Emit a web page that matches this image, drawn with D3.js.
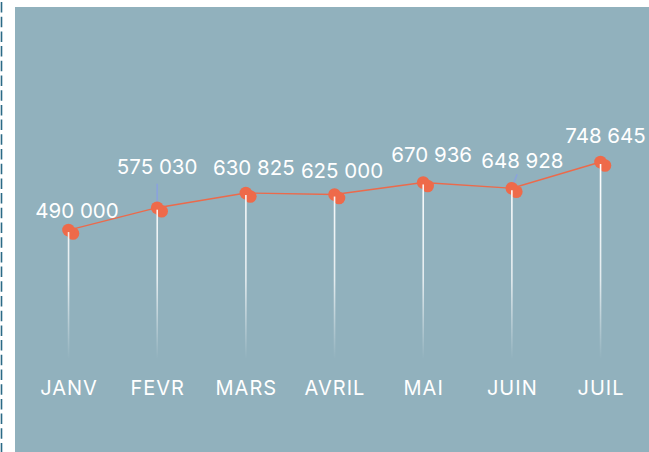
<!DOCTYPE html>
<html><head><meta charset="utf-8">
<script src="https://cdn.jsdelivr.net/npm/d3@7"></script>
<style>
html,body{margin:0;padding:0;background:#fff;}
svg{display:block;}
text{font-family:Inter,"Noto Sans",sans-serif;}
</style></head>
<body>
<script>
const months = ["JANV","FEVR","MARS","AVRIL","MAI","JUIN","JUIL"];
const values = [490000, 575030, 630825, 625000, 670936, 648928, 748645];
// label nudges (dx, dy) relative to each point, as drawn in the reference
const labelDx = [8.5, 0, 8, 7.5, 8.5, 10.5, 5];
const labelDy = [-12, -34, -18, -17, -20, -20, -19];
const leaderMonths = ["FEVR","JUIN"];

const W = 649, H = 452;
const svg = d3.select("body").append("svg").attr("width", W).attr("height", H);

// left dashed rule
svg.append("line").attr("x1",1.5).attr("x2",1.5).attr("y1",2).attr("y2",H)
  .attr("stroke","#2b6a86").attr("stroke-width",1.6).attr("stroke-dasharray","10.5,4.2");

// panel
svg.append("rect").attr("x",15).attr("y",7).attr("width",W-15).attr("height",H-7).attr("fill","#91b1bd");

const x = d3.scalePoint().domain(months).range([68.5, 600.5]);
const y = d3.scaleLinear().domain([0, d3.max(values)]).range([359, 162]);
const data = months.map((m,i)=>({m, v:values[i], i}));
const fmt = d3.formatLocale({decimal:",", thousands:" ", grouping:[3], currency:["","€"]}).format(",d");

const defs = svg.append("defs");
const g = defs.append("linearGradient").attr("id","fade").attr("gradientUnits","userSpaceOnUse")
  .attr("x1",0).attr("x2",0).attr("y1",y.range()[1]).attr("y2",y.range()[0]);
g.append("stop").attr("offset","0").attr("stop-color","#fff").attr("stop-opacity",1);
g.append("stop").attr("offset","0.6").attr("stop-color","#fff").attr("stop-opacity",0.75);
g.append("stop").attr("offset","1").attr("stop-color","#fff").attr("stop-opacity",0);

// leader lines
data.filter(d=>leaderMonths.includes(d.m)).forEach(d=>{
  const px = x(d.m), py = y(d.v);
  const lx = px + labelDx[d.i], ly = py + labelDy[d.i] - 8;
  const dx = lx - px, dy = ly - py, L = Math.hypot(dx,dy), len = d.m === "JUIN" ? 15 : 24;
  svg.append("line").attr("x1",px).attr("y1",py)
    .attr("x2",px+dx/L*len).attr("y2",py+dy/L*len)
    .attr("stroke","#8aa3dc").attr("stroke-width",1.6);
});

// line
svg.append("path").datum(data)
  .attr("d", d3.line().x(d=>x(d.m)).y(d=>y(d.v)))
  .attr("fill","none").attr("stroke","#ec6a4b").attr("stroke-width",1.4);

// points (double dots)
const pts = svg.append("g");
pts.selectAll("circle.b").data(data).join("circle").attr("class","b")
  .attr("cx",d=>x(d.m)+4.5).attr("cy",d=>y(d.v)+3.5).attr("r",6.3).attr("fill","#ee6a4a");
pts.selectAll("circle.a").data(data).join("circle").attr("class","a")
  .attr("cx",d=>x(d.m)).attr("cy",d=>y(d.v)).attr("r",6.3).attr("fill","#ee6a4a");

// vertical drop lines
svg.selectAll("rect.drop").data(data).join("rect").attr("class","drop")
  .attr("x",d=>x(d.m)-0.75).attr("width",1.6)
  .attr("y",d=>y(d.v)+2).attr("height",d=>y(0)-y(d.v)-2)
  .attr("fill","url(#fade)");

// value labels
svg.selectAll("text.val").data(data).join("text").attr("class","val")
  .attr("x",d=>x(d.m)+labelDx[d.i]).attr("y",d=>y(d.v)+labelDy[d.i])
  .attr("text-anchor","middle").attr("fill","#fff").attr("font-size",20.5)
  .text(d=>fmt(d.v));

// x axis labels
const ax = svg.append("g").attr("transform","translate(0,395)")
  .call(d3.axisBottom(x).tickSize(0).tickPadding(0));
ax.select(".domain").remove();
ax.selectAll("text").attr("fill","#fff").attr("font-size",20).attr("dy",0)
  .attr("letter-spacing","1px").style("font-family","Inter, 'Noto Sans', sans-serif");
</script>
</body></html>
